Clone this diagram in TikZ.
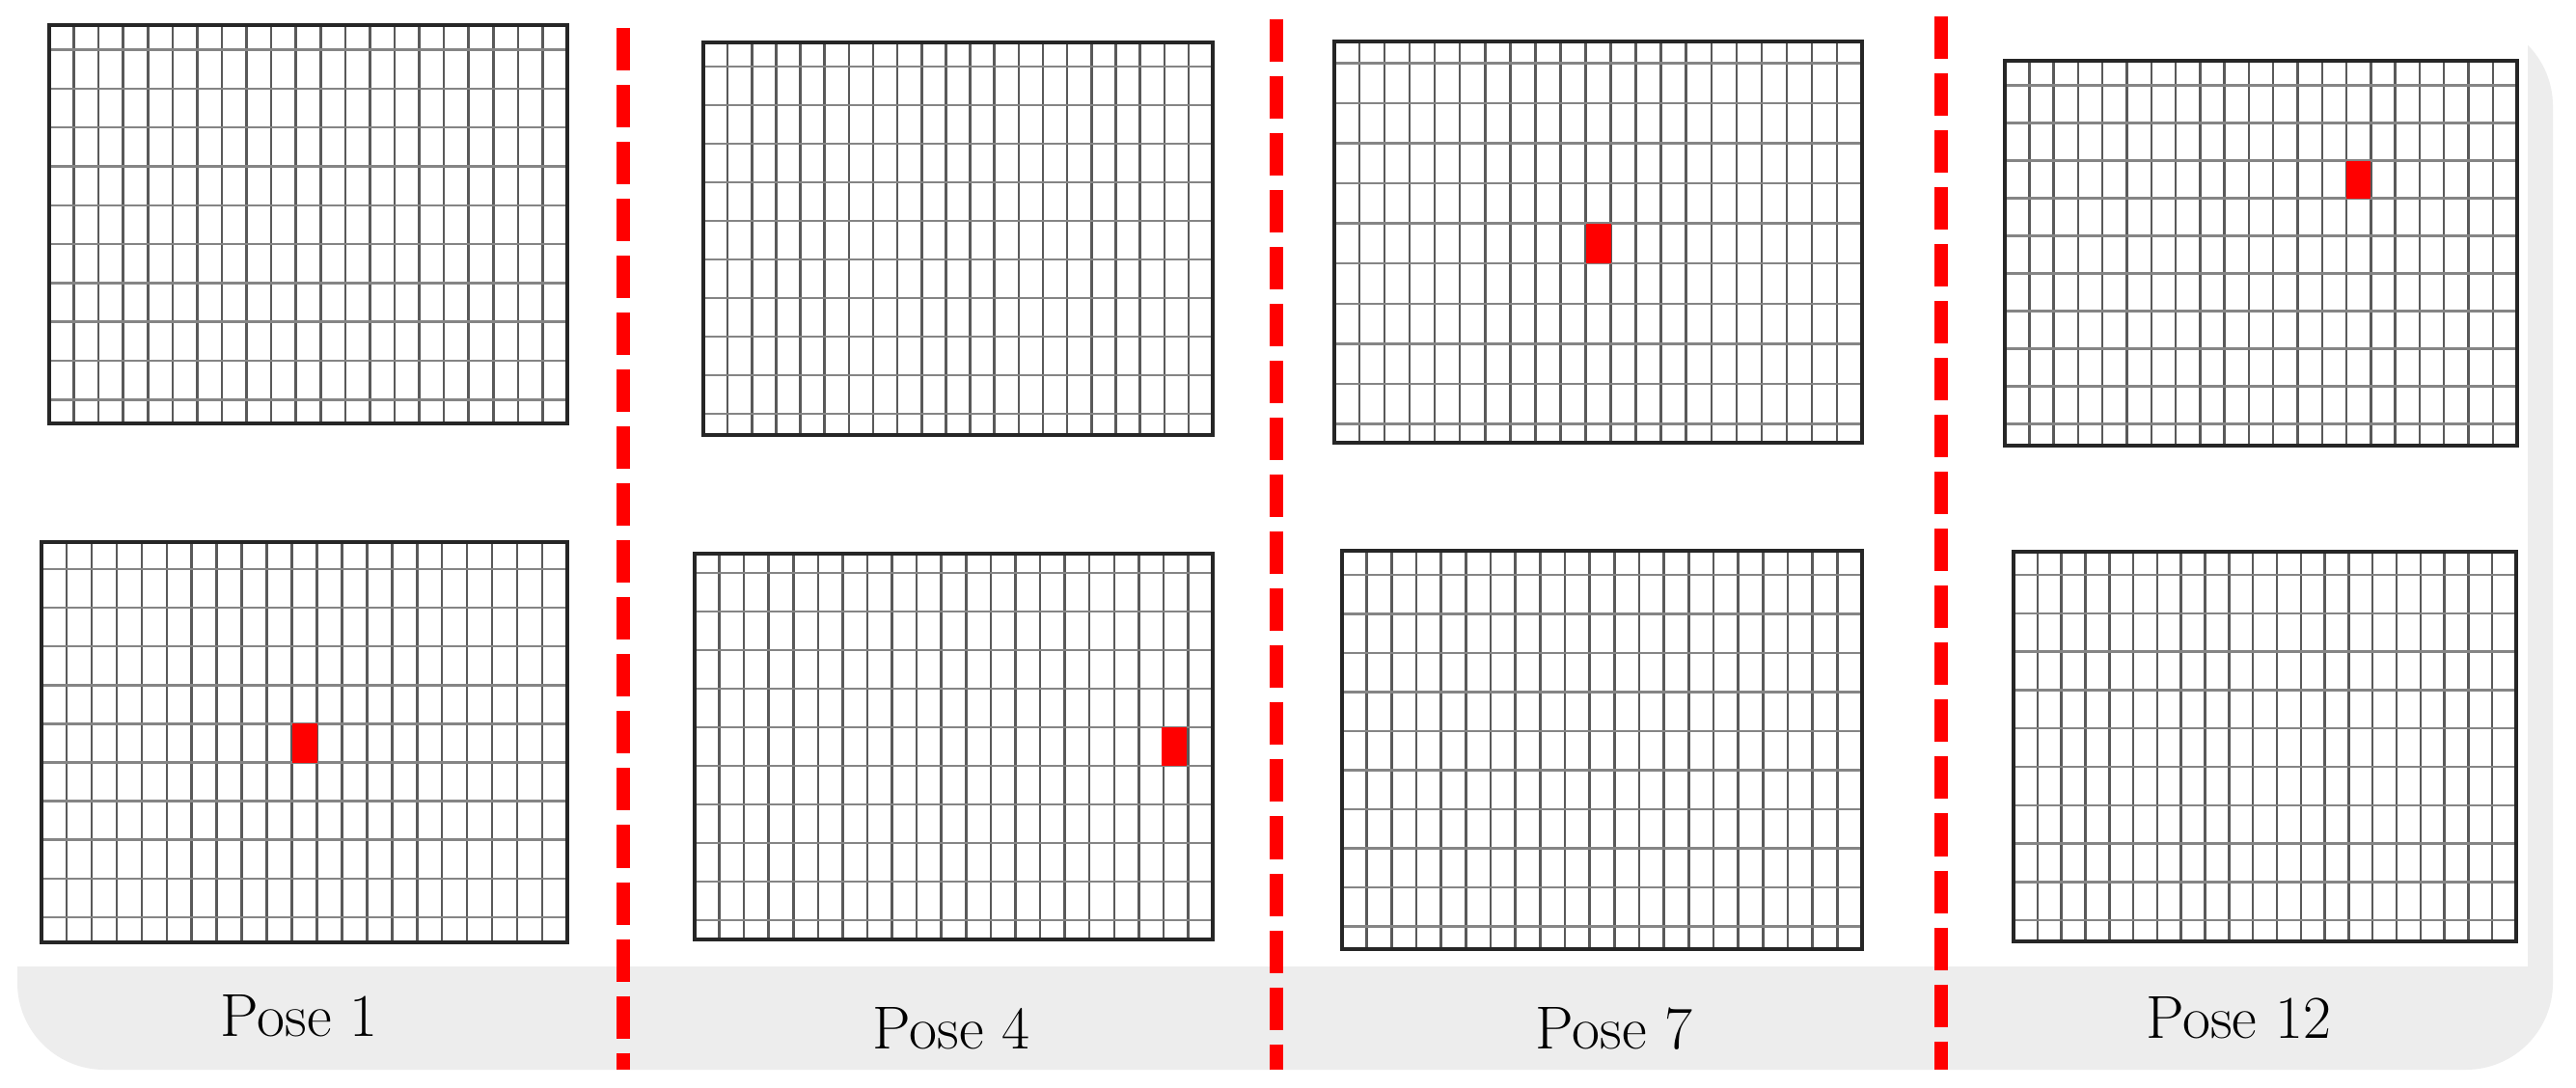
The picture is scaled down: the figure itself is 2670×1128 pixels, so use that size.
\documentclass[tikz,border=0pt]{standalone}
\usepackage{fontspec}
\definecolor{bandgray}{HTML}{EDEDED}
\definecolor{cellred}{HTML}{FF0000}
\tikzset{
  gridv/.style={draw=black!65, line width=0.7pt},
  gridh/.style={draw=black!48, line width=0.7pt},
  gridframe/.style={draw=black!85, line width=1.2pt},
  redcell/.style={fill=cellred, draw=none},
  sepline/.style={draw=cellred, line width=0.14cm, dash pattern=on 0.44cm off 0.15cm},
  poselabel/.style={anchor=base, inner sep=0pt, font=\fontsize{17.9pt}{20pt}\selectfont}
}
% #1 left, #2 top, #3 right, #4 bottom, #5 first horizontal line, #6 row spacing
\newcommand{\posegrid}[6]{%
  \pgfmathsetmacro{\gcw}{(#3-#1)/21}%
  \foreach \k in {1,...,20} {\draw[gridv] ({#1+\k*\gcw},#2) -- ({#1+\k*\gcw},#4);}%
  \foreach \k in {0,...,9} {\draw[gridh] (#1,{#5+\k*#6}) -- (#3,{#5+\k*#6});}%
  \draw[gridframe] (#1,#2) rectangle (#3,#4);%
}
\begin{document}
\begin{tikzpicture}[x=0.01cm, y=-0.01cm]
  \useasboundingbox (0,0) rectangle (2670,1128);
  \fill[white] (0,0) rectangle (2670,1128);
  % background band
  \fill[bandgray, rounded corners=0.9cm] (18,20) rectangle (2646,1109);
  \fill[white] (0,0) rectangle (2620,1002);

  % grids
  \posegrid{51}{26}{588}{439}{51.6}{40.3}
  \posegrid{43}{562}{588}{977}{590}{40.1}
  \posegrid{729}{44}{1257}{451}{69}{40}
  \posegrid{720}{574}{1257}{974}{594}{40}
  \posegrid{1383}{43}{1930}{459}{65.5}{41.55}
  \posegrid{1391}{571}{1930}{984}{596}{40.5}
  \posegrid{2078}{63}{2609}{462}{88.6}{39}
  \posegrid{2087}{572}{2608}{976}{596}{39.8}

  % red cells
  \fill[redcell] (302.5,750.4) rectangle (328.5,790.5);
  \fill[redcell] (1204,754) rectangle (1229.5,794);
  \fill[redcell] (1643.5,231.7) rectangle (1669.5,273.2);
  \fill[redcell] (2432,166.6) rectangle (2457.3,205.6);

  % separators
  \draw[sepline] (646,29) -- (646,1109);
  \draw[sepline] (1323,20) -- (1323,1109);
  \draw[sepline] (2012,17) -- (2012,1109);

  % labels
  \node[poselabel] (p1) at (310,1074) {Pose 1};
  \node[poselabel] (p4) at (986,1087) {Pose 4};
  \node[poselabel] (p7) at (1673,1087) {Pose 7};
  \node[poselabel] (p12) at (2320,1076) {Pose 12};
\end{tikzpicture}
\end{document}
